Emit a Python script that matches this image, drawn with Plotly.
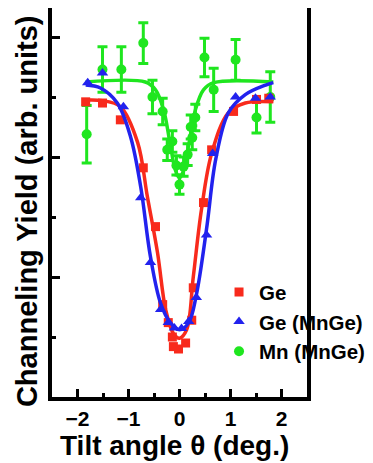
import plotly.graph_objects as go

# Ge (red squares)
ge_x = [-1.84, -1.51, -1.16, -0.71, -0.47, -0.33, -0.22, -0.14, -0.12, -0.02,
        0.12, 0.24, 0.27, 0.47, 0.63, 1.06, 1.51, 1.75]
ge_y = [2.46, 2.45, 2.31, 1.91, 1.42, 0.77, 0.62, 0.50, 0.42, 0.40,
        0.45, 0.64, 0.91, 1.62, 2.06, 2.38, 2.48, 2.49]
ge_fit_x = [-1.84, -1.51, -1.16, -0.82, -0.63, -0.43, -0.27, -0.12, 0.0,
            0.14, 0.27, 0.43, 0.63, 0.96, 1.29, 1.84]
ge_fit_y = [2.475, 2.47, 2.42, 2.12, 1.67, 1.2, 0.725, 0.53, 0.49,
            0.56, 1.0, 1.56, 2.03, 2.37, 2.45, 2.46]

# Ge in MnGe (blue triangles)
gemn_x = [-1.80, -1.51, -1.10, -0.76, -0.57, -0.37, -0.22, -0.10, 0.04,
          0.18, 0.33, 0.53, 0.65, 1.10, 1.49, 1.78]
gemn_y = [2.62, 2.70, 2.42, 1.66, 1.12, 0.73, 0.62, 0.575, 0.57,
          0.63, 0.83, 1.35, 2.03, 2.50, 2.49, 2.50]
gemn_fit_x = [-1.84, -1.55, -1.22, -0.96, -0.76, -0.57, -0.37, -0.18, 0.0,
              0.18, 0.33, 0.53, 0.71, 0.96, 1.29, 1.69, 1.84]
gemn_fit_y = [2.60, 2.575, 2.45, 2.17, 1.75, 1.17, 0.78, 0.62, 0.56,
              0.62, 0.85, 1.40, 1.98, 2.37, 2.52, 2.60, 2.62]

# Mn in MnGe (green circles with error bars)
mn_x = [-1.82, -1.51, -1.14, -0.71, -0.53, -0.33, -0.24, -0.14, -0.06, 0.0,
        0.08, 0.16, 0.22, 0.25, 0.31, 0.49, 0.67, 1.10, 1.51, 1.78]
mn_y = [2.19, 2.73, 2.73, 2.95, 2.50, 2.38, 2.06, 2.13, 1.93, 1.77,
        1.92, 2.02, 2.25, 2.16, 2.33, 2.83, 2.56, 2.81, 2.33, 2.50]
mn_err = [0.24, 0.19, 0.19, 0.17, 0.14, 0.11, 0.09, 0.09, 0.08, 0.08,
          0.08, 0.09, 0.10, 0.10, 0.11, 0.16, 0.18, 0.17, 0.13, 0.21]
mn_fit_x = [-1.84, -0.67, -0.47, -0.31, -0.18, -0.08, 0.0, 0.08, 0.18, 0.31,
            0.47, 0.67, 1.84]
mn_fit_y = [2.625, 2.625, 2.56, 2.39, 2.1, 1.89, 1.825, 1.89, 2.1, 2.39,
            2.56, 2.62, 2.625]

RED = '#f82a1c'
BLUE = '#2222ee'
GREEN = '#1fe61f'
FONT = 'Liberation Sans, Arial'

fig = go.Figure()

fig.add_trace(go.Scatter(
    x=mn_fit_x, y=mn_fit_y, mode='lines', line=dict(color=GREEN, width=3.5, shape='spline'),
    showlegend=False, hoverinfo='skip'))
fig.add_trace(go.Scatter(
    x=mn_x, y=mn_y, mode='markers', name='Mn (MnGe)', legendrank=3,
    marker=dict(color=GREEN, size=10, symbol='circle'),
    error_y=dict(type='data', array=mn_err, color=GREEN, thickness=3, width=5)))

fig.add_trace(go.Scatter(
    x=ge_fit_x, y=ge_fit_y, mode='lines', line=dict(color=RED, width=3.5, shape='spline'),
    showlegend=False, hoverinfo='skip'))
fig.add_trace(go.Scatter(
    x=ge_x, y=ge_y, mode='markers', name='Ge', legendrank=1,
    marker=dict(color=RED, size=9, symbol='square')))

fig.add_trace(go.Scatter(
    x=gemn_fit_x, y=gemn_fit_y, mode='lines', line=dict(color=BLUE, width=3.5, shape='spline'),
    showlegend=False, hoverinfo='skip'))
fig.add_trace(go.Scatter(
    x=gemn_x, y=gemn_y, mode='markers', name='Ge (MnGe)', legendrank=2,
    marker=dict(color=BLUE, size=10, symbol='triangle-up')))

axis_common = dict(
    showline=True, linecolor='black', linewidth=4, mirror=True,
    ticks='inside', tickcolor='black', tickwidth=3, ticklen=8,
    showgrid=False, zeroline=False, automargin=False,
)

fig.update_xaxes(
    **axis_common,
    range=[-2.5, 2.5], tick0=0, dtick=1,
    minor=dict(dtick=0.5, ticks='inside', ticklen=4, tickwidth=3, tickcolor='black', showgrid=False),
    tickfont=dict(family=FONT, size=21, color='black', weight='bold'),
)
fig.update_yaxes(
    **axis_common,
    range=[0, 3.242], tick0=0, dtick=1, showticklabels=False,
    minor=dict(dtick=0.5, ticks='inside', ticklen=4, tickwidth=3, tickcolor='black', showgrid=False),
)

fig.add_annotation(
    text='Tilt angle θ (deg.)', xref='paper', yref='paper', x=0.482, y=-0.1234,
    xanchor='center', yanchor='middle', showarrow=False,
    font=dict(family=FONT, size=28, color='black', weight='bold'))
fig.add_annotation(
    text='Channeling Yield (arb. units)', xref='paper', yref='paper', x=-0.098, y=0.478,
    xanchor='center', yanchor='middle', showarrow=False, textangle=-90,
    font=dict(family=FONT, size=29, color='black', weight='bold'))

# page body has an 8px margin, so the figure starts at (8, 8) in the window
fig.update_layout(
    width=365, height=455,
    margin=dict(l=44, r=66, t=0, b=66, autoexpand=False),
    plot_bgcolor='white', paper_bgcolor='white',
    legend=dict(x=0.655, y=0.321, xanchor='left', yanchor='top',
                bgcolor='rgba(0,0,0,0)', tracegroupgap=0,
                font=dict(family=FONT, size=20.5, color='black', weight='bold')),
)

fig.write_html("out.html")
